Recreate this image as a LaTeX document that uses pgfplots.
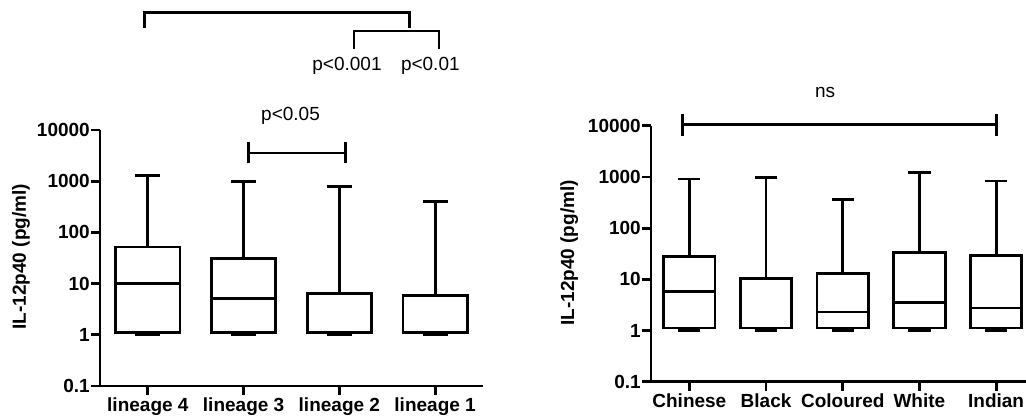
\documentclass[border=0pt]{standalone}
\usepackage{fontspec}
\setmainfont{Liberation Sans}
\usepackage{pgfplots}
\pgfplotsset{compat=1.18}
\usepgfplotslibrary{statistics}
\pgfplotsset{
  boxplot/every median/.style={line width=2.8pt, black},
  boxplot/every box/.style={line width=2.8pt, black},
  boxplot/every whisker/.style={line width=2.8pt, black},
}
\newcommand{\fs}{\fontsize{19}{21}\selectfont}
\begin{document}
\begin{tikzpicture}
\useasboundingbox (0pt,0pt) rectangle (1026pt,416pt);
% ---------- left panel ----------
\begin{axis}[scale only axis, axis lines=left, axis line style={line width=2.8pt,-,black},
  ymode=log, ymin=0.1, ymax=10000,
  ytick={0.1,1,10,100,1000,10000}, yticklabels={0.1,1,10,100,1000,10000},
  yminorticks=false,
  tick align=outside, major tick length=9pt,
  major tick style={line width=2.8pt,black},
  clip=false,
  ticklabel style={font=\fs\bfseries},
  yticklabel style={inner sep=1pt}, xticklabel style={inner sep=3pt},
  /pgf/number format/assume math mode=true,
  ylabel={IL-12p40 (pg/ml)},
  ylabel style={font=\fs\bfseries, anchor=center, at={(axis description cs:-0.206,0.505)}},
  boxplot/draw direction=y,
  at={(100pt,30pt)}, anchor=south west, width=383pt, height=256pt,
  xmin=-0.5, xmax=3.5, xtick={0,1,2,3},
  xticklabels={lineage 4, lineage 3, lineage 2, lineage 1}]
\addplot[black, line width=2.8pt, solid, boxplot prepared={draw position=0, lower whisker=1, lower quartile=1.1, median=9.9, upper quartile=52, upper whisker=1270, box extend=0.67, whisker extend=0.26}] coordinates {};
\addplot[black, line width=2.8pt, solid, boxplot prepared={draw position=1, lower whisker=1, lower quartile=1.1, median=5.2, upper quartile=31, upper whisker=986, box extend=0.67, whisker extend=0.26}] coordinates {};
\addplot[black, line width=2.8pt, solid, boxplot prepared={draw position=2, lower whisker=1, lower quartile=1.1, median=1.1, upper quartile=6.45, upper whisker=787, box extend=0.67, whisker extend=0.26}] coordinates {};
\addplot[black, line width=2.8pt, solid, boxplot prepared={draw position=3, lower whisker=1, lower quartile=1.1, median=1.1, upper quartile=5.8, upper whisker=405, box extend=0.67, whisker extend=0.26}] coordinates {};
% significance annotations
\draw[line width=2.8pt] (axis cs:1.05,2224) -- (axis cs:1.05,5900);
\draw[line width=2.8pt] (axis cs:2.06,2224) -- (axis cs:2.06,5900);
\draw[line width=2.8pt] (axis cs:1.05,3540) -- (axis cs:2.06,3540);
\node[font=\fs] at (axis cs:1.49,1.86e4) {p<0.05};
\draw[line width=2.8pt] (axis cs:-0.035,1e6) |- (axis cs:2.73,1.941e6) -- (axis cs:2.73,1e6);
\draw[line width=2.8pt] (axis cs:2.152,3.87e5) |- (axis cs:3.04,8.61e5) -- (axis cs:3.04,3.87e5);
\node[font=\fs] at (axis cs:2.08,1.82e5) {p<0.001};
\node[font=\fs] at (axis cs:2.95,1.82e5) {p<0.01};
\end{axis}
% ---------- right panel ----------
\begin{axis}[scale only axis, axis lines=left, axis line style={line width=2.8pt,-,black},
  ymode=log, ymin=0.1, ymax=10000,
  ytick={0.1,1,10,100,1000,10000}, yticklabels={0.1,1,10,100,1000,10000},
  yminorticks=false,
  tick align=outside, major tick length=9pt,
  major tick style={line width=2.8pt,black},
  clip=false,
  ticklabel style={font=\fs\bfseries},
  yticklabel style={inner sep=1pt}, xticklabel style={inner sep=3pt},
  /pgf/number format/assume math mode=true,
  ylabel={IL-12p40 (pg/ml)},
  ylabel style={font=\fs\bfseries, anchor=center, at={(axis description cs:-0.218,0.503)}},
  boxplot/draw direction=y,
  at={(651pt,34.3pt)}, anchor=south west, width=375pt, height=256pt,
  xmin=-0.5, xmax=4.39, xtick={0,1,2,3,4},
  xticklabels={Chinese, Black, Coloured, White, Indian}]
\addplot[black, line width=2.8pt, solid, boxplot prepared={draw position=0, lower whisker=1, lower quartile=1.12, median=5.8, upper quartile=27.5, upper whisker=906, box extend=0.67, whisker extend=0.29}] coordinates {};
\addplot[black, line width=2.8pt, solid, boxplot prepared={draw position=1, lower whisker=1, lower quartile=1.12, median=1.12, upper quartile=10.5, upper whisker=975, box extend=0.67, whisker extend=0.29}] coordinates {};
\addplot[black, line width=2.8pt, solid, boxplot prepared={draw position=2, lower whisker=1, lower quartile=1.12, median=2.3, upper quartile=13, upper whisker=357, box extend=0.67, whisker extend=0.29}] coordinates {};
\addplot[black, line width=2.8pt, solid, boxplot prepared={draw position=3, lower whisker=1, lower quartile=1.12, median=3.5, upper quartile=33, upper whisker=1220, box extend=0.67, whisker extend=0.29}] coordinates {};
\addplot[black, line width=2.8pt, solid, boxplot prepared={draw position=4, lower whisker=1, lower quartile=1.12, median=2.74, upper quartile=28.8, upper whisker=828, box extend=0.67, whisker extend=0.29}] coordinates {};
\draw[line width=2.8pt] (axis cs:-0.09,6310) -- (axis cs:-0.09,1.7e4);
\draw[line width=2.8pt] (axis cs:4.008,6310) -- (axis cs:4.008,1.7e4);
\draw[line width=2.8pt] (axis cs:-0.09,1.04e4) -- (axis cs:4.008,1.04e4);
\node[font=\fs] at (axis cs:1.77,4.37e4) {ns};
\end{axis}
\end{tikzpicture}
\end{document}
